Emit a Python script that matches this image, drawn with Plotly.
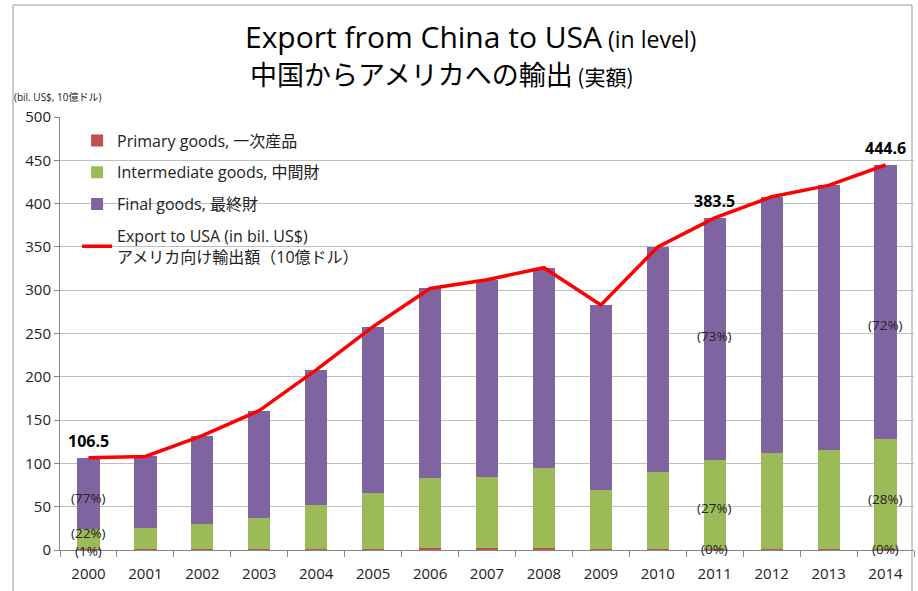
import plotly.graph_objects as go

years = [str(y) for y in range(2000, 2015)]
total = [106.5, 108.0, 132.0, 161.0, 208.0, 258.0, 302.0, 312.0, 326.0, 283.0, 350.0, 383.5, 408.0, 421.0, 444.6]
intermediate = [23.0, 24.0, 29.0, 36.0, 50.0, 64.0, 81.0, 83.0, 93.0, 68.0, 88.0, 102.0, 110.0, 114.0, 127.0]
primary = [1.1, 1.0, 1.1, 1.2, 1.5, 1.6, 1.8, 1.8, 2.2, 1.5, 1.6, 1.5, 1.6, 1.6, 1.5]
final = [round(t - i - p, 1) for t, i, p in zip(total, intermediate, primary)]

value_label_years = ["2000", "2011", "2014"]
value_labels = ["106.5", "383.5", "444.6"]

pct_years = ["2000", "2000", "2000", "2011", "2011", "2011", "2014", "2014", "2014"]
pct_y = [60, 20, 0, 247, 49, 1, 260, 59, 1]
pct_text = ["(77%)", "(22%)", "(1%)", "(73%)", "(27%)", "(0%)", "(72%)", "(28%)", "(0%)"]

FONT = "Open Sans, Noto Sans CJK JP, sans-serif"

fig = go.Figure()
fig.add_trace(go.Bar(x=years, y=primary, name="Primary goods, 一次産品",
                     marker=dict(color="#C0504D", line=dict(width=0)), legendgroup="a"))
fig.add_trace(go.Bar(x=years, y=intermediate, name="Intermediate goods, 中間財",
                     marker=dict(color="#9BBB59", line=dict(width=0)), legendgroup="b"))
fig.add_trace(go.Bar(x=years, y=final, name="Final goods, 最終財",
                     marker=dict(color="#8064A2", line=dict(width=0)), legendgroup="c"))
fig.add_trace(go.Scatter(x=years, y=total, mode="lines",
                         name="Export to USA (in bil. US$)<br>アメリカ向け輸出額（10億ドル）",
                         line=dict(color="#FF0000", width=3.5), legendgroup="d"))

for yr, txt in zip(value_label_years, value_labels):
    i = years.index(yr)
    fig.add_annotation(x=i, y=total[i], xref="x", yref="y", text="<b>" + txt + "</b>",
                       showarrow=False, yshift=17, font=dict(family=FONT, size=16, color="#000000"))
for yr, yv, txt in zip(pct_years, pct_y, pct_text):
    fig.add_annotation(x=years.index(yr), y=yv, xref="x", yref="y", text=txt, showarrow=False,
                       yshift=-1 if yv == 0 else 0,
                       font=dict(family=FONT, size=13.5, color="#222222"))

fig.update_layout(
    width=918, height=591,
    margin=dict(l=60, r=4, t=117, b=41),
    paper_bgcolor="white", plot_bgcolor="white",
    barmode="stack", bargap=0.61,
    font=dict(family=FONT, size=15, color="#222222"),
    showlegend=True,
    legend=dict(x=0.02, y=0.985, xanchor="left", yanchor="top", traceorder="grouped",
                font=dict(family=FONT, size=16, color="#222222"), bgcolor="rgba(0,0,0,0)",
                tracegroupgap=8, itemwidth=30),
    xaxis=dict(type="category", range=[-0.5, 14.5], showline=True, linecolor="#888888", ticks="outside",
               tickson="boundaries", ticklen=6, tickcolor="#888888", showgrid=False,
               ticklabelstandoff=10,
               tickfont=dict(family=FONT, size=15, color="#222222")),
    yaxis=dict(range=[0, 500], dtick=50, showline=True, linecolor="#888888", ticks="outside",
               ticklen=5, tickcolor="#888888", gridcolor="#BFBFBF", gridwidth=1, zeroline=False,
               tickfont=dict(family=FONT, size=15, color="#222222")),
)


def px_x(p):
    return (p - 60) / 854.0


def px_y(p):
    return (550 - p) / 433.0


fig.add_annotation(x=px_x(470), y=px_y(36), xref="paper", yref="paper", showarrow=False, yanchor="middle",
                   text="<span style='font-size:30px'>Export from China to USA</span><span style='font-size:23px'> (in level)</span>",
                   font=dict(family=FONT, color="#000000"))
fig.add_annotation(x=px_x(442), y=px_y(73), xref="paper", yref="paper", showarrow=False, yanchor="middle",
                   text="<span style='font-size:27px'>中国からアメリカへの輸出</span><span style='font-size:21px'> (実額)</span>",
                   font=dict(family="Noto Sans CJK JP, sans-serif", color="#000000"))
fig.add_annotation(x=px_x(12), y=px_y(97), xref="paper", yref="paper", showarrow=False,
                   xanchor="left", yanchor="middle", text="(bil. US$, 10億ドル)",
                   font=dict(family=FONT, size=10, color="#222222"))

fig.add_shape(type="rect", xref="paper", yref="paper", x0=px_x(13), x1=px_x(912),
              y0=px_y(600), y1=px_y(5), line=dict(color="#999999", width=1), layer="below")

fig.write_html("out.html")
